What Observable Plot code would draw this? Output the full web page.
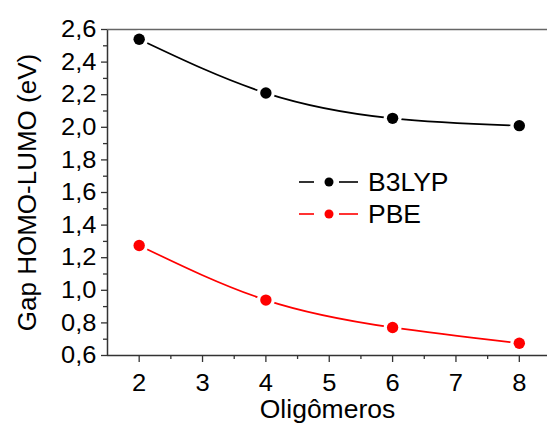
<!DOCTYPE html>
<html><head><meta charset="utf-8">
<script src="https://cdn.jsdelivr.net/npm/d3@7"></script>
<script src="https://cdn.jsdelivr.net/npm/@observablehq/plot@0.6"></script>
<style>
body{margin:0;background:#fff}
#c{position:relative;width:547px;height:424px}
#legend{position:absolute;left:295px;top:164px}
</style>
</head><body><div id="c"></div>
<script>
const oligomers = [2, 4, 6, 8];
const b3lyp = [2.54, 2.21, 2.055, 2.01];
const pbe = [1.275, 0.94, 0.772, 0.675];
const seriesNames = ["B3LYP", "PBE"];
const seriesColors = ["#000000", "#ff0000"];
const xTicks = [2, 3, 4, 5, 6, 7, 8];
const xMinor = [2.5, 3.5, 4.5, 5.5, 6.5, 7.5];
const yTicks = [0.6, 0.8, 1.0, 1.2, 1.4, 1.6, 1.8, 2.0, 2.2, 2.4, 2.6];
const yMinor = [0.7, 0.9, 1.1, 1.3, 1.5, 1.7, 1.9, 2.1, 2.3, 2.5];
const xDomain = [1.5, 8.445];
const yDomain = [0.6, 2.6];
const xTitle = "Oligômeros";
const yTitle = "Gap HOMO-LUMO (eV)";

const rows = [];
[b3lyp, pbe].forEach((vals, s) => vals.forEach((v, i) => rows.push({x: oligomers[i], y: v, series: seriesNames[s]})));

const font = "'Liberation Sans', Arial, sans-serif";
const fmt = d => d3.format(".1f")(d).replace(".", ",");
const axisColor = "#333";

const chart = Plot.plot({
  width: 547, height: 424,
  marginLeft: 107, marginRight: 0, marginTop: 29, marginBottom: 69,
  x: {domain: xDomain},
  y: {domain: yDomain},
  color: {domain: seriesNames, range: seriesColors},
  style: {fontFamily: font, background: "white", color: "black", overflow: "visible"},
  marks: [
    Plot.axisX(xTicks, {tickSize: 7, tickPadding: 11, fontSize: 24, tickFormat: d => d, label: null, stroke: axisColor, strokeWidth: 1.3}),
    Plot.axisX(xMinor, {tickSize: 4, text: null, label: null, stroke: axisColor, strokeWidth: 1.3}),
    Plot.axisY(yTicks, {tickSize: 6, tickPadding: 5, fontSize: 24, tickFormat: fmt, label: null, stroke: axisColor, strokeWidth: 1.3}),
    Plot.axisY(yMinor, {tickSize: 4, text: null, label: null, stroke: axisColor, strokeWidth: 1.3}),
    Plot.ruleX([xDomain[0]], {stroke: axisColor, strokeWidth: 1.5}),
    Plot.ruleY([yDomain[0]], {stroke: axisColor, strokeWidth: 1.5}),
    Plot.ruleY([yDomain[1]], {stroke: "#666", strokeWidth: 1.3}),
    Plot.line(rows, {x: "x", y: "y", z: "series", stroke: "series", curve: "natural", strokeWidth: 1.7}),
    Plot.dot(rows, {x: "x", y: "y", r: 9, fill: "white", stroke: null}),
    Plot.dot(rows, {x: "x", y: "y", r: 5.7, fill: "series", stroke: null}),
    Plot.text([xTitle], {frameAnchor: "bottom", lineAnchor: "middle", dy: 54, fontSize: 25, fill: "black"}),
    Plot.text([yTitle], {frameAnchor: "left", textAnchor: "middle", lineAnchor: "middle", rotate: -90, dx: -80, fontSize: 26, fill: "black"})
  ]
});
const c = document.getElementById("c");
c.appendChild(chart);

// Legend
const lg = d3.select(c).append("svg").attr("id", "legend").attr("width", 180).attr("height", 70)
  .style("font-family", font);
seriesNames.forEach((name, i) => {
  const g = lg.append("g").attr("transform", `translate(0,${18 + i * 32})`);
  g.append("line").attr("x1", 4).attr("x2", 19).attr("stroke", seriesColors[i]).attr("stroke-width", 1.6);
  g.append("line").attr("x1", 44).attr("x2", 63).attr("stroke", seriesColors[i]).attr("stroke-width", 1.6);
  g.append("circle").attr("cx", 34).attr("r", 4.5).attr("fill", seriesColors[i]);
  g.append("text").attr("x", 73).attr("dy", "0.36em").attr("font-size", 25).attr("fill", "black").text(name);
});

// Slight horizontal widening of upright text to match the reference's glyph proportions
d3.select(c).selectAll("text").each(function() {
  if ((this.getAttribute("transform") || "").includes("rotate")) return;
  const len = this.getComputedTextLength();
  if (len > 0) {
    this.setAttribute("textLength", (len * 1.06).toFixed(1));
    this.setAttribute("lengthAdjust", "spacingAndGlyphs");
  }
});
</script>
</body></html>
